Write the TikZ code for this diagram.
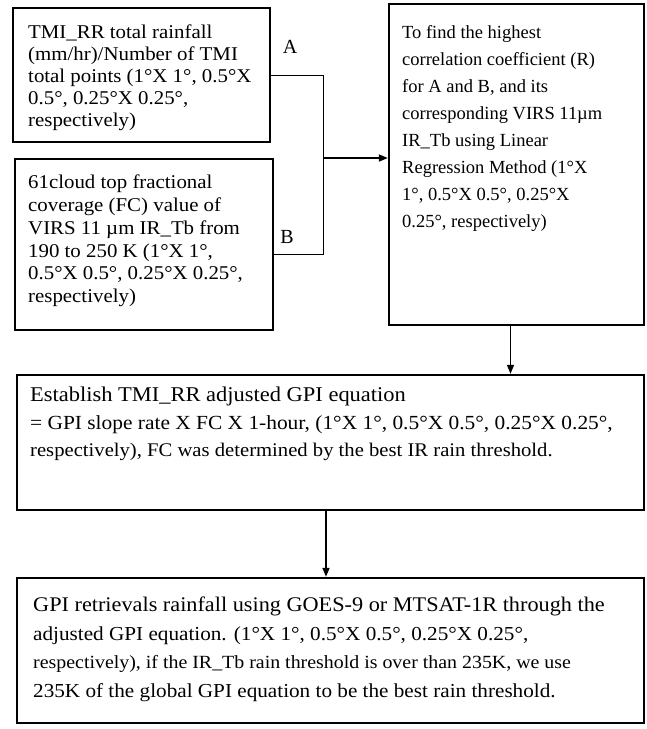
\documentclass[tikz,border=0pt]{standalone}
\usepackage{fontspec}
\setmainfont{Liberation Serif}
\newfontfamily\wideserif[FakeStretch=1.07]{Liberation Serif}
\usetikzlibrary{arrows.meta}
\newcommand{\fsz}[2]{\fontsize{#1}{#2}\selectfont}
\begin{document}
\begin{tikzpicture}[x=1pt,y=-1pt,
  box/.style={draw, line width=2.4pt, inner sep=0pt},
  txt/.style={anchor=north west, inner sep=0pt, align=left},
  link/.style={line width=0.9pt},
  arr/.style={line width=1.6pt, -{Triangle[length=9pt,width=7pt]}},
  lab/.style={inner sep=0pt, font=\fontsize{20}{24}\selectfont}]
\useasboundingbox (0,0) rectangle (646,729);
% boxes
\node[box, minimum width=257pt, minimum height=134pt] (b1) at (141.5,75) {};
\node[box, minimum width=258pt, minimum height=171pt] (b2) at (144,244.5) {};
\node[box, minimum width=255pt, minimum height=321pt] (b3) at (516.5,164.5) {};
\node[box, minimum width=627pt, minimum height=135pt] (b4) at (330.5,442.5) {};
\node[box, minimum width=627pt, minimum height=145pt] (b5) at (330.5,650.5) {};
% texts
\node[txt, font=\wideserif\fsz{19.5}{22}] (t1) at (28,25)
  {TMI\_RR total rainfall\\(mm/hr)/Number of TMI\\total points (1°X 1°, 0.5°X\\0.5°, 0.25°X 0.25°,\\respectively)};
\node[txt, font=\wideserif\fsz{19.5}{22.7}] (t2) at (28,175)
  {61cloud top fractional\\coverage (FC) value of\\VIRS 11 µm IR\_Tb from\\190 to 250 K (1°X 1°,\\0.5°X 0.5°, 0.25°X 0.25°,\\respectively)};
\node[txt, font=\fsz{18.5}{27}] (t3) at (402,25)
  {To find the highest\\correlation coefficient (R)\\for A and B, and its\\corresponding VIRS 11µm\\IR\_Tb using Linear\\Regression Method (1°X\\1°, 0.5°X 0.5°, 0.25°X\\0.25°, respectively)};
\node[txt, font=\wideserif\fsz{20}{27.5}] (t4) at (30,387)
  {{\fsz{21}{27.5}Establish TMI\_RR adjusted GPI equation}\\= GPI slope rate X FC X 1-hour, (1°X 1°, 0.5°X 0.5°, 0.25°X 0.25°,\\{\fsz{19.3}{27.5}respectively), FC was determined by the best IR rain threshold.}};
\node[txt, font=\wideserif\fsz{19.8}{28.5}] (t5) at (33,597)
  {{\fsz{20.8}{28.5}GPI retrievals rainfall using GOES-9 or MTSAT-1R through the}\\adjusted GPI equation. (1°X 1°, 0.5°X 0.5°, 0.25°X 0.25°,\\{\fsz{18.6}{28.5}respectively), if the IR\_Tb rain threshold is over than 235K, we use}\\235K of the global GPI equation to be the best rain threshold.};
% labels
\node[lab] (la) at (290,47) {A};
\node[lab] (lb) at (287,237) {B};
% connectors
\coordinate (ja) at (323,75);
\coordinate (jb) at (323,254);
\coordinate (jm) at (323,158);
\draw[link] (b1.east) -- (ja) -- (jb) -- (b2.east |- jb);
\draw[arr] (jm) -- (b3.west |- jm);
\draw[arr] ([xshift=-6pt]b3.south) -- ([xshift=-6pt]b3.south |- b4.north);
\draw[arr] ([xshift=-4.5pt]b4.south) -- ([xshift=-4.5pt]b4.south |- b5.north);
\end{tikzpicture}
\end{document}
